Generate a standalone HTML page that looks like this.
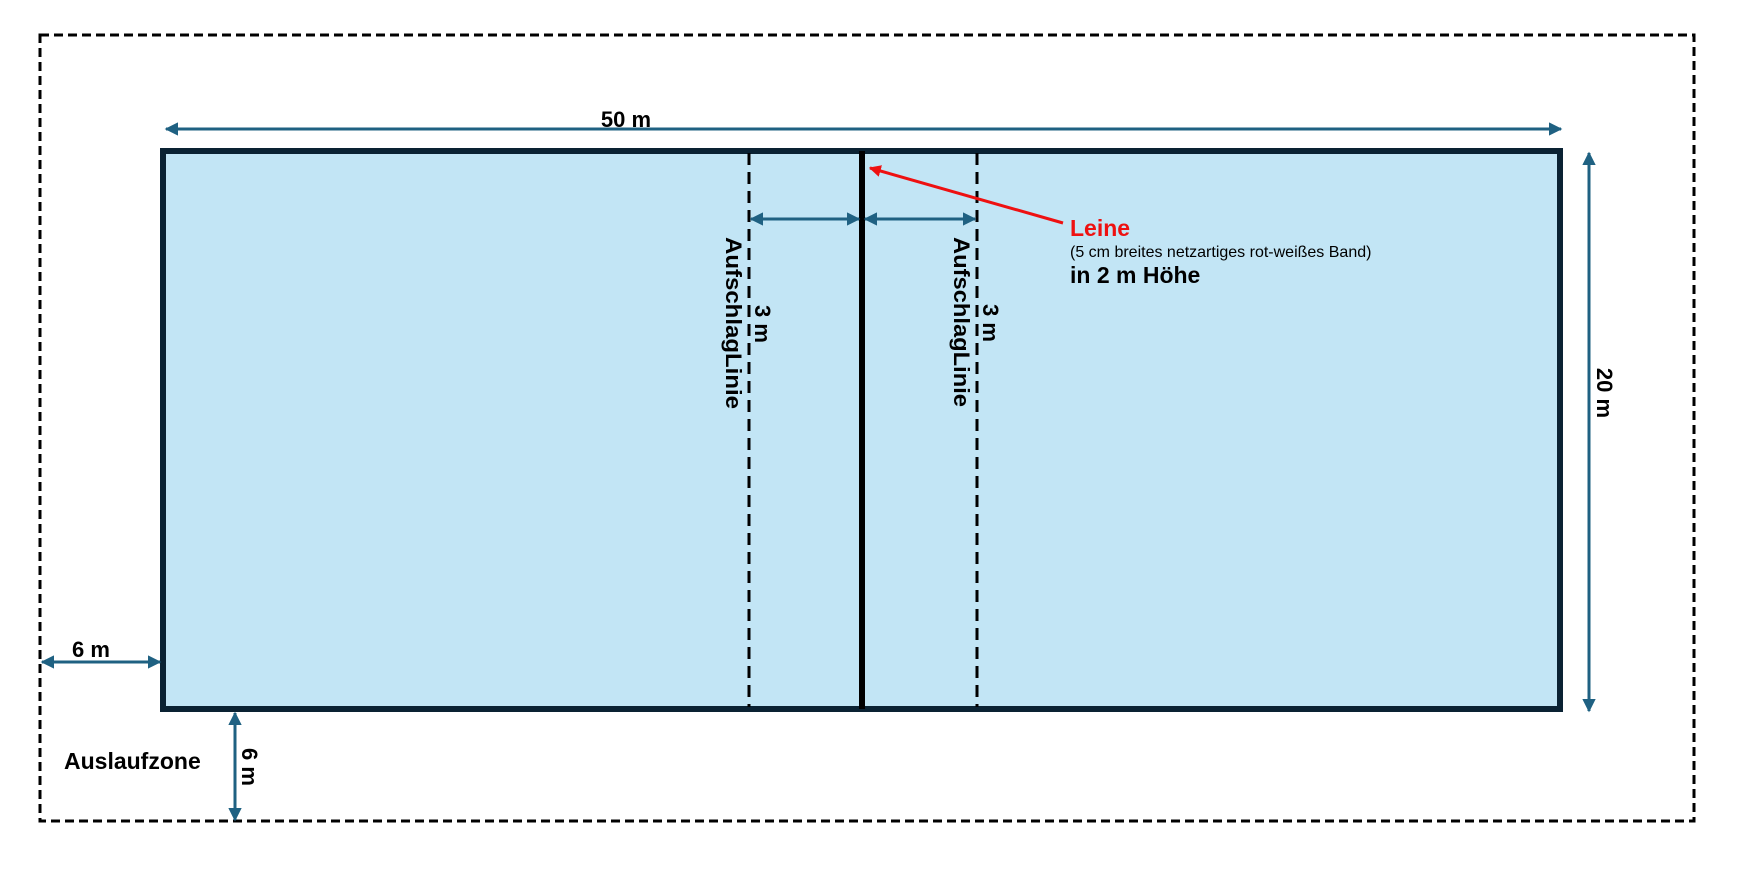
<!DOCTYPE html>
<html><head><meta charset="utf-8"><style>body{margin:0;background:#fff}svg{display:block}text{font-family:"Liberation Sans",Arial,sans-serif}</style></head><body>
<svg width="1740" height="870" viewBox="0 0 1740 870" xmlns="http://www.w3.org/2000/svg">
<defs>
<marker id="a" viewBox="0 0 10 10" refX="9" refY="5" markerWidth="4.5" markerHeight="4.5" orient="auto-start-reverse"><path d="M0,0L10,5L0,10z" fill="#1f6182"/></marker>
<marker id="r" viewBox="0 0 10 10" refX="9" refY="5" markerWidth="4" markerHeight="4" orient="auto"><path d="M0,0L10,5L0,10z" fill="#ee1111"/></marker>
</defs>
<rect x="40" y="35" width="1654" height="786" fill="none" stroke="#000" stroke-width="3" stroke-dasharray="9,5"/>
<rect x="163" y="151" width="1397" height="558" fill="#c2e5f5" stroke="#0a2233" stroke-width="6"/>
<line x1="749" y1="153" x2="749" y2="707" stroke="#000" stroke-width="3" stroke-dasharray="12,7"/>
<line x1="977" y1="153" x2="977" y2="707" stroke="#000" stroke-width="3" stroke-dasharray="12,7"/>
<line x1="862" y1="151" x2="862" y2="709" stroke="#000" stroke-width="6"/>
<g stroke="#1f6182" stroke-width="3" marker-start="url(#a)" marker-end="url(#a)">
<line x1="166" y1="129" x2="1561" y2="129"/>
<line x1="751" y1="219" x2="859" y2="219"/>
<line x1="865" y1="219" x2="975" y2="219"/>
<line x1="1589" y1="153" x2="1589" y2="711"/>
<line x1="42" y1="662" x2="160" y2="662"/>
<line x1="235" y1="713" x2="235" y2="820"/>
</g>
<line x1="1063" y1="223" x2="870" y2="168" stroke="#ee1111" stroke-width="3" marker-end="url(#r)"/>
<g font-weight="bold" font-size="22" fill="#000">
<text x="626" y="127" text-anchor="middle">50 m</text>
<text x="91" y="657" text-anchor="middle">6 m</text>
<text x="64" y="769" font-size="23">Auslaufzone</text>
<text transform="translate(242,767) rotate(90)" text-anchor="middle">6 m</text>
<text transform="translate(1597,393) rotate(90)" text-anchor="middle">20 m</text>
<text transform="translate(726,323) rotate(90)" text-anchor="middle" textLength="172" lengthAdjust="spacingAndGlyphs">AufschlagLinie</text>
<text transform="translate(755,324) rotate(90)" text-anchor="middle">3 m</text>
<text transform="translate(954,322) rotate(90)" text-anchor="middle" textLength="170" lengthAdjust="spacingAndGlyphs">AufschlagLinie</text>
<text transform="translate(983,323) rotate(90)" text-anchor="middle">3 m</text>
<text x="1070" y="283" font-size="23">in 2 m Höhe</text>
<text x="1070" y="236" font-size="23" fill="#ee1111">Leine</text>
</g>
<text x="1070" y="257" font-size="16">(5 cm breites netzartiges rot-weißes Band)</text>
</svg>
</body></html>
